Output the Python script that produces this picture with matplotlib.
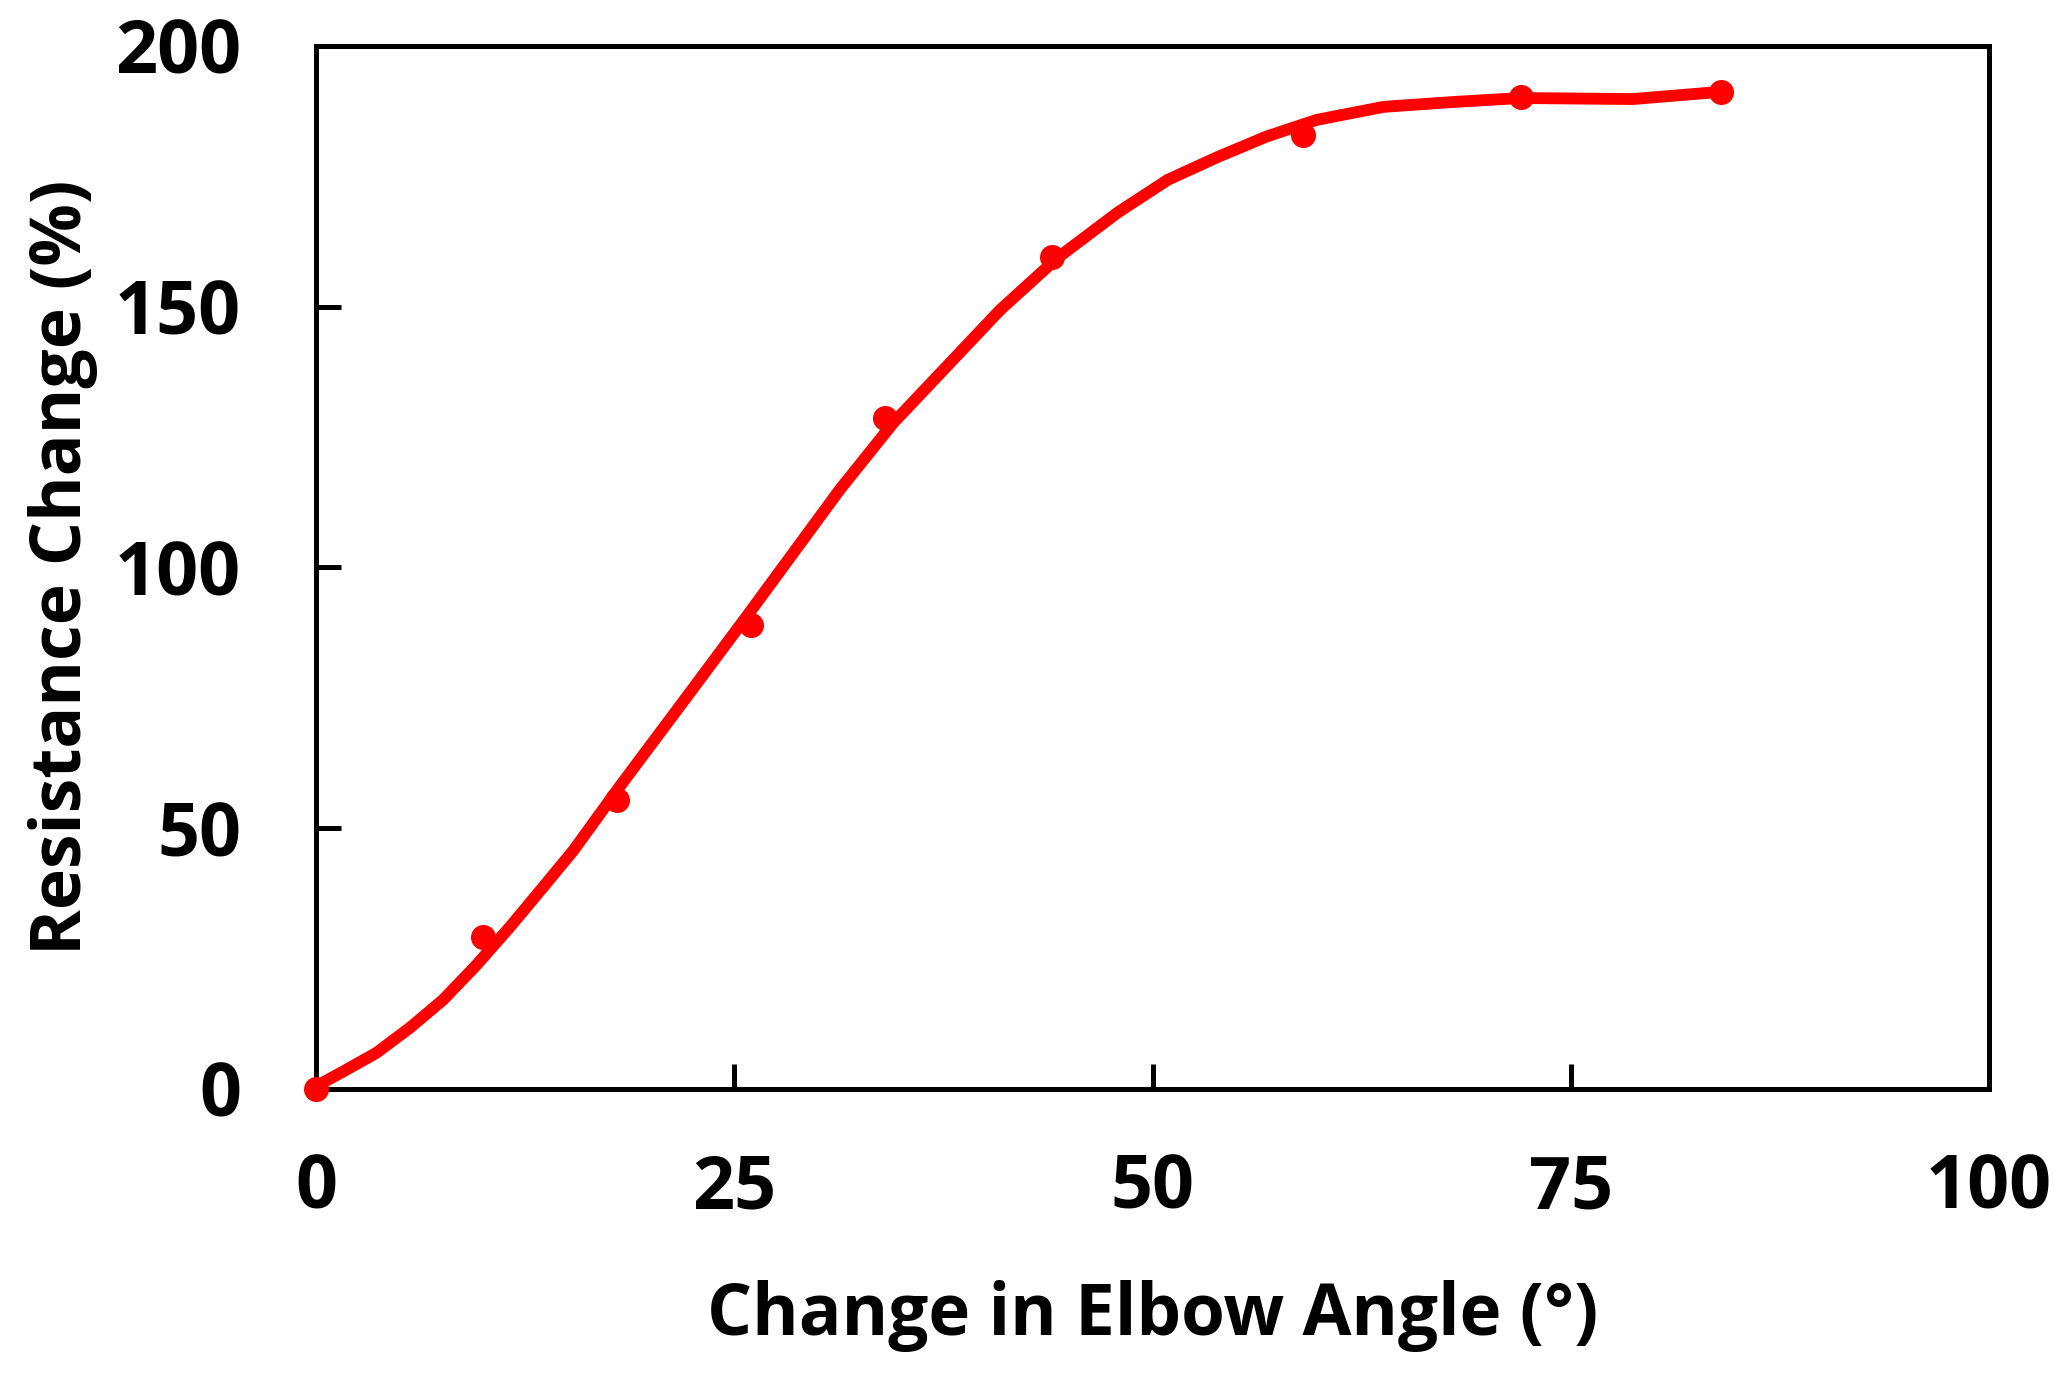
import matplotlib
matplotlib.use("Agg")
import matplotlib.pyplot as plt

# measured points (angle change in degrees, resistance change in %)
angle = [0, 10, 18, 26, 34, 44, 59, 72, 84]
resistance = [0, 29.1, 55.4, 89.0, 128.7, 159.5, 182.9, 190.2, 191.2]

# trend curve
curve_x = [0, 1.6, 3.6, 5.6, 7.6, 9.6, 11.6, 13.6, 15.4, 18.2, 22, 25.9,
           31.3, 34.5, 37.3, 40.9, 44.3, 47.9, 50.9, 53.9, 56.8, 59.8, 63.8,
           67.8, 72, 78.7, 84]
curve_y = [0.5, 3.3, 6.9, 11.7, 17.1, 23.8, 31.1, 38.8, 45.8, 58.2, 74.5, 91.3,
           114.9, 127.7, 137.2, 149.4, 159.3, 168.0, 174.3, 178.7, 182.6, 185.8,
           188.3, 189.2, 190.0, 189.8, 191.2]

xticks = [0, 25, 50, 75, 100]
yticks = [0, 50, 100, 150, 200]

plt.rcParams['font.family'] = ['Open Sans', 'DejaVu Sans']
plt.rcParams['font.weight'] = 'bold'

fig = plt.figure(figsize=(20.63, 13.73), dpi=100)
ax = fig.add_axes([0.1532, 0.2069, 0.8110, 0.7597])

ax.plot(curve_x, curve_y, color='#ff0000', lw=8.5, solid_capstyle='round',
        solid_joinstyle='round', clip_on=False, zorder=3)
ax.plot(angle, resistance, 'o', color='#ff0000', ms=17, clip_on=False, zorder=4)

ax.set_xlim(0, 100)
ax.set_ylim(0, 200)
ax.set_xticks(xticks)
ax.set_yticks(yticks)

for s in ax.spines.values():
    s.set_linewidth(3.6)
ax.tick_params(direction='in', length=18, width=3.6, labelsize=53)
ax.tick_params(axis='x', pad=46)
ax.tick_params(axis='y', pad=54)

ax.set_xlabel('Change in Elbow Angle (°)', fontsize=51, fontweight='bold', labelpad=38)
ax.set_ylabel('Resistance Change (%)', fontsize=50, fontweight='bold', labelpad=12)

fig.savefig('out.png', dpi=100)
